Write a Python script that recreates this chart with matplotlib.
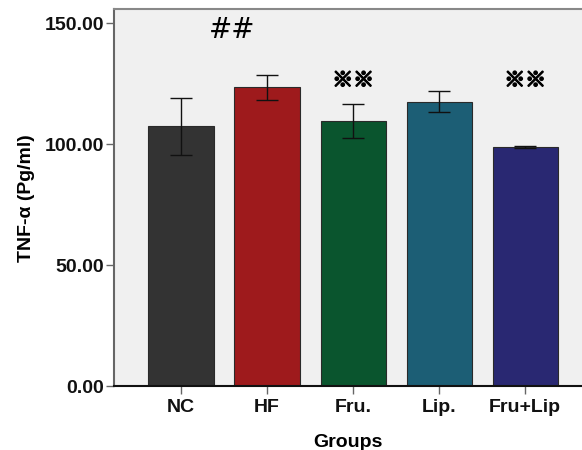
import numpy as np
import matplotlib
matplotlib.use("Agg")
import matplotlib.pyplot as plt
import matplotlib.patheffects as pe

groups = ["NC", "HF", "Fru.", "Lip.", "Fru+Lip"]
means = [107.4, 123.5, 109.6, 117.5, 98.9]
errors = [11.8, 5.2, 7.0, 4.3, 0.4]
colors = ["#333333", "#9e1a1c", "#0a552e", "#1c5e75", "#292872"]

# significance marks: (text, x position in group units, y value)
marks = [("##", 0.59, 147.0), ("※※", 2.0, 126.4), ("※※", 4.0, 126.4)]

plt.rcParams["font.family"] = ["Liberation Sans", "DejaVu Sans", "Noto Sans CJK SC"]

fig = plt.figure(figsize=(5.82, 4.5), dpi=100)
ax = fig.add_axes([0.196, 0.142, 0.804, 0.837])
ax.set_facecolor("#f0f0f0")

x = np.arange(len(groups))
ax.bar(x, means, width=0.76, color=colors, edgecolor="#2a2a2a", linewidth=0.8, zorder=2)
ax.errorbar(x, means, yerr=errors, fmt="none", ecolor="#111111", elinewidth=1.0,
            capsize=7.7, capthick=1.0, zorder=3)

for txt, xm, ym in marks:
    if txt == "##":
        ax.text(xm, ym, txt, ha="center", va="center", fontsize=20, color="black",
                family=["DejaVu Sans"])
    else:
        t = ax.text(xm, ym, txt, ha="center", va="center", fontsize=15, color="black",
                    fontweight="bold", family=["Noto Sans CJK SC", "DejaVu Sans"])
        t.set_path_effects([pe.withStroke(linewidth=1.2, foreground="black")])

ax.set_xlim(-0.78, 4.66)
ax.set_ylim(0, 155.6)
ax.set_yticks([0, 50, 100, 150])
ax.set_yticklabels(["0.00", "50.00", "100.00", "150.00"])
ax.set_xticks(x)
ax.set_xticklabels(groups)

ax.tick_params(axis="both", labelsize=14, length=5.5, width=1.0)
for lbl in ax.get_xticklabels() + ax.get_yticklabels():
    lbl.set_fontweight("bold")
ax.tick_params(axis="y", colors="#666666", labelcolor="#111111", pad=1.5)
ax.tick_params(axis="x", colors="#666666", labelcolor="#111111", pad=4)

ax.set_xlabel("Groups", fontsize=14, fontweight="bold", labelpad=13)
ax.set_ylabel("TNF-α (Pg/ml)", fontsize=14, fontweight="bold", labelpad=7)

ax.spines["right"].set_visible(False)
ax.spines["left"].set_color("#666666")
ax.spines["top"].set_color("#888888")
ax.spines["bottom"].set_color("#111111")
for s in ax.spines.values():
    s.set_linewidth(1.5)

plt.savefig("out.png", dpi=100)
plt.close()
